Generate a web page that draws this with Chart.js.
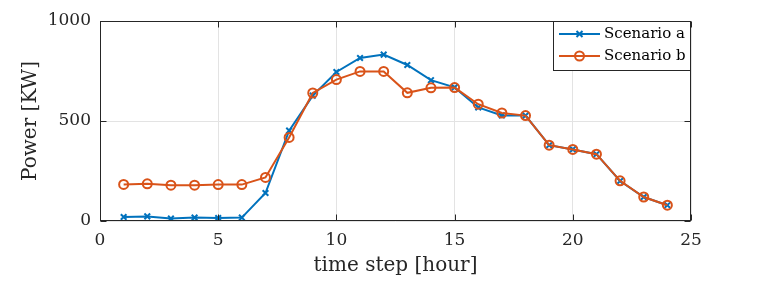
<!DOCTYPE html>
<html>
<head>
<meta charset="utf-8">
<script src="https://cdn.jsdelivr.net/npm/chart.js@4/dist/chart.umd.min.js"></script>
<style>
  html, body { margin: 0; padding: 0; background: #fff; }
  canvas { display: block; }
</style>
</head>
<body>
<canvas id="chartContainer" width="764" height="285"></canvas>
<script>
// hours 1..24
const hours = [1, 2, 3, 4, 5, 6, 7, 8, 9, 10, 11, 12, 13, 14, 15, 16, 17, 18, 19, 20, 21, 22, 23, 24];
const scenarioA = [20, 23, 12, 17, 15, 17, 140, 452, 627, 745, 815, 832, 780, 704, 668, 568, 528, 527, 379, 358, 334, 200, 120, 79];
const scenarioB = [183, 186, 179, 179, 182, 182, 218, 418, 640, 707, 748, 748, 641, 666, 667, 584, 540, 527, 379, 358, 334, 201, 120, 79];
const seriesNames = ["Scenario a", "Scenario b"];
const xTicks = [0, 5, 10, 15, 20, 25];
const yTicks = [0, 500, 1000];

const blue = "#0072BD";
const orange = "#D95319";
const axisColor = "#262626";
const serif = "'DejaVu Serif', serif";

// frame, inward ticks and the boxed legend like matlab
const matlabAxes = {
    id: "matlabAxes",
    afterDraw(chart) {
        const ctx = chart.ctx;
        const a = chart.chartArea;
        const xs = chart.scales.x, ys = chart.scales.y;
        const L = Math.round(a.left) + 0.5, R = Math.round(a.right) - 0.5;
        const T = Math.round(a.top) + 0.5, B = Math.round(a.bottom) - 0.5;
        ctx.save();
        ctx.strokeStyle = axisColor;
        ctx.lineWidth = 1;
        ctx.strokeRect(L, T, R - L, B - T);
        ctx.beginPath();
        xTicks.forEach(v => {
            const px = Math.round(xs.getPixelForValue(v)) + 0.5;
            ctx.moveTo(px, B); ctx.lineTo(px, B - 6);
            ctx.moveTo(px, T); ctx.lineTo(px, T + 6);
        });
        yTicks.forEach(v => {
            const py = Math.round(ys.getPixelForValue(v)) + 0.5;
            ctx.moveTo(L, py); ctx.lineTo(L + 6, py);
            ctx.moveTo(R, py); ctx.lineTo(R - 6, py);
        });
        ctx.stroke();

        // legend box
        const lx = 553.5, ly = T, lw = R - 553.5, lh = 49;
        ctx.fillStyle = "#fff";
        ctx.fillRect(lx, ly, lw, lh);
        ctx.strokeRect(lx, ly, lw, lh);
        const rows = [
            { name: seriesNames[0], color: blue, style: "crossRot", y: 34 },
            { name: seriesNames[1], color: orange, style: "circle", y: 56 }
        ];
        rows.forEach(r => {
            ctx.strokeStyle = r.color;
            ctx.lineWidth = 2;
            ctx.beginPath();
            ctx.moveTo(559, r.y); ctx.lineTo(600, r.y);
            ctx.stroke();
            ctx.beginPath();
            if (r.style === "circle") {
                ctx.arc(579.5, r.y, 4.5, 0, Math.PI * 2);
            } else {
                ctx.moveTo(576.5, r.y - 3); ctx.lineTo(582.5, r.y + 3);
                ctx.moveTo(582.5, r.y - 3); ctx.lineTo(576.5, r.y + 3);
            }
            ctx.stroke();
            ctx.fillStyle = "#000";
            ctx.font = "15px " + serif;
            ctx.textBaseline = "middle";
            ctx.textAlign = "left";
            ctx.fillText(r.name, 604, r.y);
        });
        ctx.restore();
    }
};

const ctx = document.getElementById("chartContainer");
const chart = new Chart(ctx, {
    type: "line",
    data: {
        datasets: [
            {
                label: seriesNames[0],
                data: hours.map((h, i) => ({ x: h, y: scenarioA[i] })),
                borderColor: blue,
                backgroundColor: blue,
                borderWidth: 2,
                pointStyle: "crossRot",
                pointRadius: 4,
                pointBorderWidth: 2,
                order: 2,
            },
            {
                label: seriesNames[1],
                data: hours.map((h, i) => ({ x: h, y: scenarioB[i] })),
                borderColor: orange,
                backgroundColor: "rgba(0,0,0,0)",
                borderWidth: 2,
                pointStyle: "circle",
                pointRadius: 4.5,
                pointBorderWidth: 2,
                order: 1,
            },
        ],
    },
    options: {
        responsive: false,
        animation: false,
        layout: { padding: { top: 21, right: 73, left: 0, bottom: 0 } },
        plugins: {
            legend: { display: false },
            tooltip: { enabled: false },
        },
        scales: {
            x: {
                type: "linear",
                min: 0,
                max: 25,
                afterFit: s => { s.height = 64; },
                afterBuildTicks: s => { s.ticks = xTicks.map(v => ({ value: v })); },
                grid: { color: "#e3e3e3", drawTicks: false },
                border: { display: false },
                ticks: {
                    color: axisColor, padding: 9,
                    font: { family: serif, size: 17 },
                    callback: v => String(v),
                },
                title: {
                    display: true,
                    text: "time step [hour]",
                    color: axisColor,
                    padding: { top: 0, bottom: 7 },
                    font: { family: serif, size: 20 },
                },
            },
            y: {
                min: 0,
                max: 1000,
                afterFit: s => { s.width = 100; },
                afterBuildTicks: s => { s.ticks = yTicks.map(v => ({ value: v })); },
                grid: { color: "#e3e3e3", drawTicks: false },
                border: { display: false },
                ticks: {
                    color: axisColor, padding: 9,
                    font: { family: serif, size: 17 },
                    callback: v => String(v),
                },
                title: {
                    display: true,
                    text: "Power [KW]",
                    color: axisColor,
                    padding: { top: 19, bottom: 0 },
                    font: { family: serif, size: 20 },
                },
            },
        },
    },
    plugins: [matlabAxes],
});
</script>
</body>
</html>
